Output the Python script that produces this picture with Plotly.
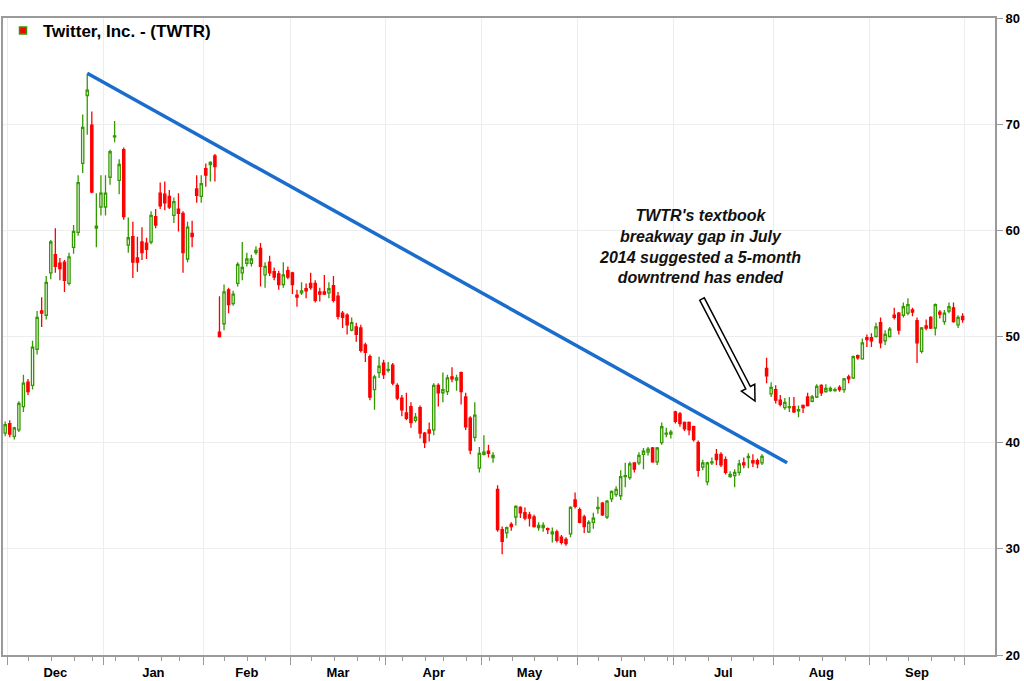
import math
import plotly.graph_objects as go
import pandas as pd

# ---------------- data ----------------
holidays = ["2013-12-25", "2014-01-20", "2014-02-17", "2014-04-18",
            "2014-05-26", "2014-07-04", "2014-09-01"]
dates = [d for d in pd.bdate_range("2013-11-29", "2014-09-30")
         if d.strftime("%Y-%m-%d") not in holidays]

opens = [40.9, 41.8, 40.6, 41.2, 43.4, 45.7, 45.4, 48.8, 52.4, 52.0,
         56.0, 57.7, 56.9, 57.0, 55.0, 58.4, 59.8, 66.3, 72.7, 69.9,
         60.2, 62.2, 62.2, 65.0, 68.8, 64.7, 67.6, 58.6, 59.4, 57.4,
         58.9, 58.8, 58.9, 61.3, 63.5, 63.4, 63.2, 61.4, 62.0, 61.6,
         57.3, 59.7, 63.9, 63.2, 65.8, 66.2, 67.0, 50.4, 51.2, 54.4,
         53.1, 55.0, 56.0, 56.9, 56.9, 57.9, 58.3, 55.8, 57.0, 56.1,
         55.9, 54.9, 56.2, 56.0, 53.9, 54.1, 54.5, 55.0, 55.0, 54.2,
         54.2, 54.1, 54.8, 53.8, 52.2, 52.0, 50.6, 50.9, 50.8, 49.2,
         48.1, 45.0, 46.6, 47.5, 46.8, 47.3, 45.4, 44.2, 42.8, 43.4,
         42.1, 43.3, 40.9, 41.2, 41.2, 45.4, 44.7, 44.8, 46.2, 45.9,
         46.6, 44.3, 42.3, 40.5, 37.6, 38.9, 39.2, 38.6, 35.6, 31.8,
         31.5, 32.3, 33.0, 33.9, 33.4, 33.2, 33.0, 32.0, 32.0, 31.9,
         31.4, 31.6, 31.1, 30.9, 31.4, 34.6, 33.7, 33.0, 31.6, 32.5,
         33.8, 34.3, 33.0, 34.7, 35.1, 35.0, 36.8, 36.7, 38.1, 38.1,
         38.9, 39.1, 39.5, 38.2, 40.0, 40.8, 40.8, 42.9, 42.7, 41.9,
         41.9, 41.5, 40.0, 37.7, 36.3, 38.1, 38.9, 38.9, 38.4, 36.8,
         36.9, 37.2, 38.1, 38.6, 38.3, 38.3, 38.1, 47.0, 44.6, 45.0,
         44.0, 43.3, 43.3, 43.4, 43.0, 43.5, 44.3, 43.9, 44.3, 45.4,
         44.8, 44.9, 44.9, 45.2, 45.0, 46.2, 46.1, 48.2, 47.9, 49.9,
         49.9, 50.0, 51.3, 49.6, 50.0, 52.0, 52.2, 52.0, 52.2, 52.5,
         51.5, 48.6, 51.0, 51.8, 50.8, 52.3, 51.4, 52.4, 52.7, 51.1,
         51.9]
highs = [42.0, 42.1, 41.5, 43.9, 46.4, 46.0, 49.6, 52.4, 53.7, 55.7,
         59.1, 60.2, 57.4, 57.2, 57.9, 60.5, 65.2, 70.9, 74.7, 71.2,
         63.5, 65.2, 65.2, 67.6, 70.3, 66.7, 67.8, 61.2, 60.8, 59.4,
         60.3, 59.3, 61.8, 62.0, 64.5, 64.6, 63.8, 63.1, 63.5, 61.8,
         60.8, 60.9, 65.2, 65.2, 66.3, 66.5, 67.2, 53.8, 54.9, 54.6,
         54.3, 57.0, 58.9, 57.9, 57.7, 58.5, 58.8, 57.0, 57.6, 56.5,
         56.2, 57.0, 56.6, 56.1, 54.4, 55.1, 55.0, 56.0, 55.3, 54.6,
         55.8, 55.1, 55.7, 54.2, 52.4, 52.2, 51.8, 51.3, 51.1, 49.4,
         48.3, 46.4, 48.1, 47.8, 47.6, 47.5, 45.6, 44.5, 44.7, 43.8,
         42.8, 43.5, 41.0, 41.9, 45.6, 45.6, 46.6, 46.4, 47.1, 46.4,
         46.7, 44.7, 42.5, 43.8, 39.6, 40.7, 39.8, 39.1, 36.0, 32.1,
         32.1, 32.5, 34.1, 34.0, 33.9, 33.5, 33.2, 32.5, 32.5, 32.0,
         32.0, 31.8, 31.3, 31.1, 34.0, 35.3, 33.9, 33.2, 32.7, 33.4,
         34.9, 34.4, 34.6, 35.5, 35.9, 37.4, 38.1, 38.2, 38.1, 39.1,
         39.5, 39.6, 39.6, 39.6, 41.9, 41.4, 41.2, 43.0, 42.9, 42.0,
         42.0, 41.6, 40.2, 38.4, 38.2, 38.6, 39.4, 39.1, 38.7, 37.3,
         37.5, 38.4, 38.6, 39.0, 38.9, 38.5, 38.9, 48.0, 45.7, 45.4,
         44.5, 44.2, 44.3, 44.3, 43.5, 43.6, 44.7, 44.5, 45.5, 45.5,
         45.5, 45.3, 45.2, 45.4, 46.1, 46.4, 48.2, 48.3, 49.8, 50.2,
         50.3, 51.3, 51.8, 50.6, 50.9, 52.7, 52.3, 53.2, 53.6, 52.7,
         51.8, 50.9, 51.6, 51.9, 53.1, 52.5, 52.5, 53.2, 53.2, 52.0,
         52.2]
lows = [40.6, 40.5, 40.3, 41.0, 42.9, 44.5, 45.0, 48.3, 50.9, 51.6,
        55.4, 56.0, 55.3, 54.2, 54.8, 57.8, 59.5, 65.4, 69.0, 63.5,
        58.4, 61.4, 61.4, 64.3, 68.3, 63.4, 61.0, 57.9, 55.5, 56.1,
        57.2, 57.3, 58.7, 60.2, 62.0, 61.9, 62.0, 60.7, 59.9, 56.0,
        57.0, 58.4, 62.6, 62.6, 64.1, 64.6, 64.6, 49.9, 50.6, 52.2,
        52.9, 54.7, 55.3, 56.6, 56.6, 57.7, 54.7, 54.6, 55.7, 55.3,
        54.4, 54.6, 55.4, 54.0, 52.8, 53.9, 53.6, 54.4, 53.2, 53.3,
        53.9, 53.6, 53.2, 51.6, 50.8, 50.2, 50.5, 49.5, 48.5, 47.6,
        44.0, 43.1, 46.1, 46.0, 46.6, 45.4, 44.0, 42.5, 42.1, 41.4,
        41.9, 40.4, 39.5, 40.1, 40.7, 43.4, 43.8, 44.5, 45.7, 44.9,
        43.6, 41.2, 38.9, 40.1, 37.2, 38.8, 38.6, 38.1, 31.6, 29.5,
        31.0, 31.7, 32.2, 32.9, 32.7, 32.1, 32.0, 31.7, 31.6, 31.4,
        30.6, 30.6, 30.4, 30.3, 31.1, 33.8, 32.4, 31.5, 31.5, 31.9,
        33.3, 33.1, 32.8, 34.4, 34.9, 34.6, 35.8, 36.5, 37.2, 37.9,
        37.5, 38.8, 38.1, 37.9, 39.8, 40.5, 40.4, 41.8, 41.5, 41.1,
        40.7, 40.1, 36.8, 37.4, 36.0, 37.9, 37.9, 37.7, 37.0, 36.7,
        35.8, 36.9, 37.6, 37.6, 37.7, 37.6, 37.9, 45.6, 44.3, 43.7,
        43.4, 43.1, 42.9, 42.8, 42.4, 42.8, 43.4, 43.8, 44.2, 44.4,
        44.7, 44.8, 44.8, 44.8, 44.7, 45.6, 46.0, 47.8, 47.8, 49.0,
        49.0, 49.9, 48.9, 49.2, 49.9, 51.6, 50.2, 51.8, 52.0, 51.9,
        47.5, 48.4, 50.6, 50.7, 50.1, 51.7, 51.1, 52.2, 51.3, 50.8,
        51.3]
closes = [41.7, 40.8, 41.4, 43.7, 45.6, 44.8, 49.0, 51.8, 52.2, 55.1,
          58.9, 56.6, 56.4, 55.3, 57.5, 59.9, 64.5, 69.7, 73.2, 63.6,
          60.4, 63.5, 63.5, 67.4, 68.9, 66.2, 61.3, 59.3, 57.0, 57.0,
          57.9, 58.2, 61.4, 60.5, 62.3, 62.6, 62.2, 62.7, 61.6, 57.9,
          60.3, 59.4, 63.3, 64.4, 65.2, 66.4, 66.0, 50.0, 54.2, 53.0,
          54.0, 56.8, 56.5, 57.3, 57.3, 58.1, 56.6, 56.6, 56.0, 55.6,
          54.9, 55.8, 55.6, 54.9, 53.7, 54.3, 54.3, 54.6, 53.4, 54.0,
          54.0, 54.5, 53.4, 51.9, 51.8, 51.1, 51.3, 50.2, 48.7, 48.5,
          44.3, 46.2, 47.2, 46.4, 46.9, 45.6, 44.2, 43.1, 42.3, 41.9,
          42.4, 40.9, 40.0, 40.9, 45.4, 44.7, 45.0, 46.1, 46.0, 46.1,
          44.8, 41.5, 39.3, 42.6, 39.0, 39.1, 39.0, 38.8, 31.8, 30.7,
          32.0, 32.1, 34.0, 33.4, 32.9, 32.9, 32.1, 32.2, 32.2, 31.8,
          31.6, 30.8, 30.6, 30.5, 33.9, 34.0, 32.5, 32.1, 32.5, 32.9,
          33.9, 33.2, 34.5, 35.4, 35.6, 36.8, 36.9, 38.0, 37.5, 38.8,
          39.2, 39.4, 38.2, 39.5, 41.5, 40.9, 41.0, 42.0, 41.8, 41.3,
          41.2, 40.3, 37.4, 38.1, 38.1, 38.2, 38.4, 37.9, 37.2, 37.0,
          37.2, 38.0, 37.9, 38.7, 38.1, 38.0, 38.7, 46.3, 45.2, 44.0,
          43.6, 43.8, 43.4, 42.9, 43.1, 43.3, 43.5, 44.3, 45.3, 44.7,
          45.1, 45.1, 45.0, 45.0, 46.0, 46.0, 48.1, 48.0, 49.4, 49.7,
          49.6, 50.9, 49.4, 50.2, 50.7, 51.8, 50.6, 52.8, 53.0, 52.3,
          49.4, 50.8, 50.8, 50.8, 53.0, 52.1, 52.2, 52.8, 51.4, 51.8,
          51.6]

# trend line drawn through the Dec-26 high (trading-slot index, price)
trend_x = [18, 171.5]
trend_y = [74.8, 38.1]

y_ticks = [20, 30, 40, 50, 60, 70, 80]
series_name = "Twitter, Inc. - (TWTR)"

n = min(len(dates), len(opens), len(highs), len(lows), len(closes))
dates = dates[:n]
xpos = list(range(n))

# month boundaries / labels / weekly minor ticks
month_ticks = []
month_starts = []
for i in range(1, n):
    if dates[i].month != dates[i - 1].month:
        month_ticks.append(i - 0.5)
        month_starts.append(i)
month_ticks.append(n - 0.5)
month_mid = []
month_names = []
for k in range(len(month_starts)):
    a = month_ticks[k]
    b = month_ticks[k + 1]
    month_mid.append((a + b) / 2)
    month_names.append(dates[month_starts[k]].strftime("%b"))

week_ticks = []
for i in range(n - 1):
    if dates[i + 1].isocalendar()[1] != dates[i].isocalendar()[1]:
        p = i + 0.2
        if min(abs(p - m) for m in month_ticks) > 1.2:
            week_ticks.append(p)

GREEN = "#339900"
RED = "#ff0000"
GRID = "#ededed"
AXIS = "#9a9a9a"
FONT = "Arial, Liberation Sans, sans-serif"

fig = go.Figure()
fig.add_trace(go.Candlestick(
    x=xpos, open=opens[:n], high=highs[:n], low=lows[:n], close=closes[:n],
    name=series_name, legendgroup="twtr",
    increasing=dict(line=dict(color=GREEN, width=1.3), fillcolor="#ffffff"),
    decreasing=dict(line=dict(color=RED, width=1.3), fillcolor=RED),
    whiskerwidth=0, hoverinfo="skip", showlegend=False,
))
# legend key only (small red candle body with green outline)
fig.add_trace(go.Scatter(
    x=[None], y=[None], mode="markers", name=series_name, legendgroup="twtr",
    marker=dict(symbol="square", size=7, color=RED,
                line=dict(color=GREEN, width=1.5)),
    showlegend=True, hoverinfo="skip",
))
fig.add_trace(go.Scatter(
    x=trend_x, y=trend_y, mode="lines",
    line=dict(color="#1a6dcc", width=3.5), showlegend=False, hoverinfo="skip",
))
# invisible trace for the month label axis
fig.add_trace(go.Scatter(x=[month_mid[0]], y=[y_ticks[0]], xaxis="x2",
                         mode="markers", marker=dict(opacity=0),
                         showlegend=False, hoverinfo="skip"))

W, H = 1024, 681
ML, MR, MT, MB = 3, 29, 18, 26
PW, PH = W - ML - MR, H - MT - MB
X_LO, X_HI = -0.48, 217.1

fig.update_layout(
    width=W, height=H,
    margin=dict(l=ML, r=MR, t=MT, b=MB, autoexpand=False),
    paper_bgcolor="white", plot_bgcolor="white",
    font=dict(family=FONT, color="#000000"),
    boxgap=0.3,
    showlegend=True,
    legend=dict(x=0.0, y=1.008, xanchor="left", yanchor="top",
                bgcolor="rgba(0,0,0,0)",
                font=dict(family=FONT, size=17, color="#000000", weight="bold")),
    xaxis=dict(range=[X_LO, X_HI], tickmode="array", tickvals=month_ticks,
               ticktext=[""] * len(month_ticks), ticks="outside", ticklen=8,
               tickwidth=1, tickcolor=AXIS, showgrid=True, gridcolor=GRID,
               gridwidth=1, showline=True, linecolor=AXIS, linewidth=2,
               mirror=True, zeroline=False, rangeslider=dict(visible=False),
               minor=dict(tickmode="array", tickvals=week_ticks, ticks="outside",
                          ticklen=4, tickcolor=AXIS, tickwidth=1, showgrid=False)),
    xaxis2=dict(range=[X_LO, X_HI], overlaying="x", side="bottom", anchor="y",
                tickmode="array", tickvals=month_mid, ticktext=month_names,
                ticks="outside", ticklen=5, tickcolor="rgba(0,0,0,0)",
                showgrid=False, showline=False, zeroline=False,
                tickfont=dict(family=FONT, size=13, color="#000000", weight="bold")),
    yaxis=dict(range=[20, 80], side="right", tickmode="array", tickvals=y_ticks,
               ticks="outside", ticklen=6, tickwidth=1, tickcolor=AXIS,
               showgrid=True, gridcolor=GRID, showline=True, linecolor=AXIS,
               linewidth=2, mirror=True, zeroline=False,
               tickfont=dict(family=FONT, size=13, color="#000000", weight="bold")),
)

# annotation text
fig.add_annotation(
    x=(700 - ML) / PW, y=(H - MB - 246) / PH, xref="paper", yref="paper",
    text="TWTR's textbook<br>breakway gap in July<br>2014 suggested a 5-month<br>downtrend has ended",
    showarrow=False, align="center", xanchor="center", yanchor="middle",
    font=dict(family=FONT, size=16, color="#111111", weight="bold", style="italic"),
)

# hollow arrow (pixel geometry converted to paper coords)
tx, ty = 702.0, 299.0
px, py = 755.0, 401.0
dx, dy = px - tx, py - ty
L = math.hypot(dx, dy)
ux, uy = dx / L, dy / L
nx, ny = -uy, ux
w, hw, hl = 2.6, 7.5, 15.0
bx, by = px - ux * hl, py - uy * hl
pts = [(tx + nx * w, ty + ny * w), (bx + nx * w, by + ny * w),
       (bx + nx * hw, by + ny * hw), (px, py),
       (bx - nx * hw, by - ny * hw), (bx - nx * w, by - ny * w),
       (tx - nx * w, ty - ny * w)]


def to_paper(x, y):
    return (x - ML) / PW, (H - MB - y) / PH


path = "M " + " L ".join("%.5f,%.5f" % to_paper(x, y) for x, y in pts) + " Z"
fig.add_shape(type="path", path=path, xref="paper", yref="paper",
              line=dict(color="#000000", width=1.5), fillcolor="#ffffff")

fig.write_html(
    "out.html",
    config={"displayModeBar": False},
    post_script="document.body.style.margin='0';document.body.style.padding='0';"
                "document.documentElement.style.overflow='hidden';",
)
